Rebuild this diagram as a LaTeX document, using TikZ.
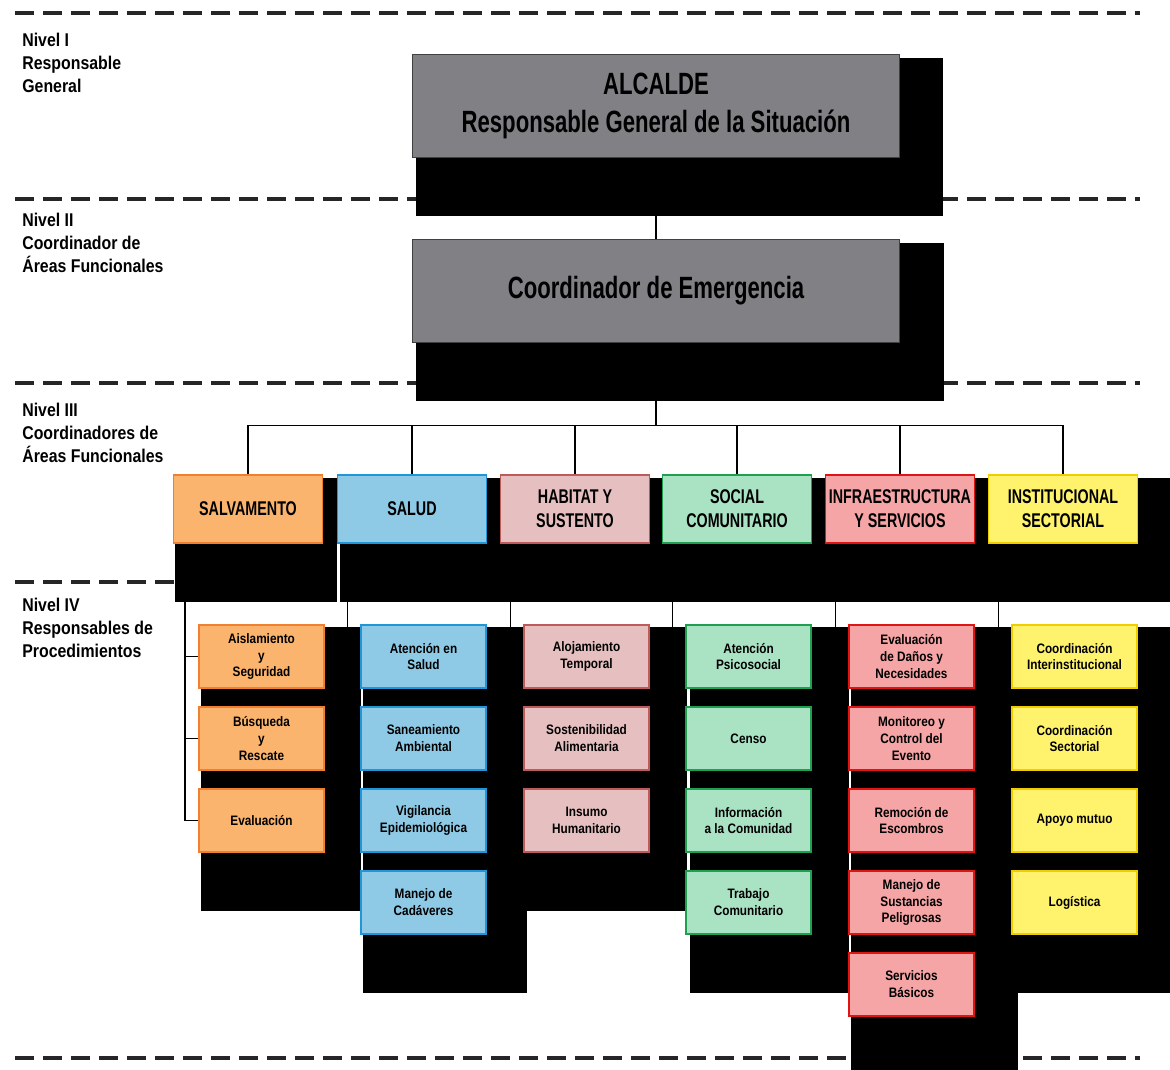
\documentclass[tikz,border=0pt]{standalone}
\usepackage{fontspec}
\setmainfont{Liberation Sans}[FakeStretch=0.72]
\newfontfamily\ancho{Liberation Sans}[FakeStretch=0.86]

\definecolor{gris}{RGB}{128,128,133}
\definecolor{salvF}{RGB}{251,180,110}
\definecolor{salvB}{RGB}{240,128,48}
\definecolor{saludF}{RGB}{142,202,230}
\definecolor{saludB}{RGB}{30,150,215}
\definecolor{habF}{RGB}{230,192,192}
\definecolor{habB}{RGB}{190,90,90}
\definecolor{socF}{RGB}{170,226,196}
\definecolor{socB}{RGB}{30,160,80}
\definecolor{infF}{RGB}{245,165,165}
\definecolor{infB}{RGB}{225,20,20}
\definecolor{insF}{RGB}{255,243,110}
\definecolor{insB}{RGB}{240,205,0}

\pgfdeclarelayer{fondo}
\pgfdeclarelayer{sombra}
\pgfsetlayers{fondo,sombra,main}

\tikzset{
  nivel/.style={anchor=north west, align=left, inner sep=0pt, font=\ancho\fontsize{10.5}{13}\selectfont\bfseries},
  divisor/.style={dash pattern=on 0.39cm off 0.17cm, line width=1.9pt, black!85},
  enlace/.style={line width=0.7pt},
  jefe/.style={draw=black!75, line width=0.8pt, fill=gris, minimum width=9.74cm, minimum height=2.06cm, align=center, font=\fontsize{17.5}{21.5}\selectfont\bfseries},
  area/.style={line width=1pt, minimum width=2.98cm, minimum height=1.36cm, align=center, inner sep=1pt, font=\fontsize{11.3}{13.6}\selectfont\bfseries},
  proc/.style={line width=1pt, minimum width=2.5cm, minimum height=1.26cm, align=center, inner sep=1pt, font=\ancho\fontsize{7.8}{9.6}\selectfont\bfseries},
  salv/.style={draw=salvB, fill=salvF},
  salu/.style={draw=saludB, fill=saludF},
  habi/.style={draw=habB, fill=habF},
  soci/.style={draw=socB, fill=socF},
  infr/.style={draw=infB, fill=infF},
  inst/.style={draw=insB, fill=insF}
}

\begin{document}
\begin{tikzpicture}[x=0.02cm, y=-0.02cm]
  \useasboundingbox (0,0) rectangle (1170,1069);

  %Niveles
  \node[nivel] (n1) at (22,33) {Nivel I\\Responsable\\General};
  \node[nivel] (n2) at (22,213) {Nivel II\\Coordinador de\\Áreas Funcionales};
  \node[nivel] (n3) at (22,403) {Nivel III\\Coordinadores de\\Áreas Funcionales};
  \node[nivel] (n4) at (22,598) {Nivel IV\\Responsables de\\Procedimientos};

  %Nivel I y II
  \node[jefe] (alc) at (656,106) {ALCALDE\\Responsable General de la Situación};
  \node[jefe] (coord) at (656,291) {Coordinador de Emergencia};

  %Nivel III
  \node[area, salv] (salvam) at (248,509) {SALVAMENTO};
  \node[area, salu] (salud) at (412,509) {SALUD};
  \node[area, habi] (habitat) at (575,509) {HABITAT Y\\SUSTENTO};
  \node[area, soci] (social) at (737,509) {SOCIAL\\COMUNITARIO};
  \node[area, infr] (infra) at (900,509) {INFRAESTRUCTURA\\Y SERVICIOS};
  \node[area, inst] (instit) at (1063,509) {INSTITUCIONAL\\SECTORIAL};

  %Nivel IV
  \foreach \t [count=\i] in {{Aislamiento\\y\\Seguridad},{Búsqueda\\y\\Rescate},{Evaluación}}
    \node[proc, salv] (sv\i) at (261.5,574.5+82*\i) {\t};
  \foreach \t [count=\i] in {{Atención en\\Salud},{Saneamiento\\Ambiental},{Vigilancia\\Epidemiológica},{Manejo de\\Cadáveres}}
    \node[proc, salu] (sa\i) at (423.5,574.5+82*\i) {\t};
  \foreach \t [count=\i] in {{Alojamiento\\Temporal},{Sostenibilidad\\Alimentaria},{Insumo\\Humanitario}}
    \node[proc, habi] (ha\i) at (586.5,574.5+82*\i) {\t};
  \foreach \t [count=\i] in {{Atención\\Psicosocial},{Censo},{Información\\a la Comunidad},{Trabajo\\Comunitario}}
    \node[proc, soci] (so\i) at (748.5,574.5+82*\i) {\t};
  \foreach \t [count=\i] in {{Evaluación\\de Daños y\\Necesidades},{Monitoreo y\\Control del\\Evento},{Remoción de\\Escombros},{Manejo de\\Sustancias\\Peligrosas},{Servicios\\Básicos}}
    \node[proc, infr] (in\i) at (911.5,574.5+82*\i) {\t};
  \foreach \t [count=\i] in {{Coordinación\\Interinstitucional},{Coordinación\\Sectorial},{Apoyo mutuo},{Logística}}
    \node[proc, inst] (is\i) at (1074.5,574.5+82*\i) {\t};

  %Sombras
  \begin{pgfonlayer}{sombra}
    \foreach \xa/\ya/\xb/\yb in {416/58/943/216, 416/243/944/401, 175/478/337/602, 340/478/1170/602,
        201/627/361/911, 363/627/527/993, 527/627/687/911, 690/627/849/993, 851/627/1018/1080, 1014/627/1170/993}
      \fill[black] (\xa,\ya) rectangle (\xb,\yb);
  \end{pgfonlayer}

  %Lineas
  \begin{pgfonlayer}{fondo}
    \foreach \y in {13,199,383,1058}
      \draw[divisor] (15,\y) -- (1140,\y);
    \draw[divisor] (15,582) -- (175,582);

    \draw[enlace] (alc.south) -- (coord.north);
    \path (coord.south) ++(0,82) coordinate (reparto);
    \draw[enlace] (coord.south) -- (reparto);
    \foreach \n in {salvam,salud,habitat,social,infra,instit}
      \draw[enlace] (reparto) -| (\n.north);

    \path (salvam.south) ++(-63,20) coordinate (bajada);
    \draw[enlace] (bajada) |- (sv3.west);
    \foreach \i in {1,2}
      \draw[enlace] (sv\i.west) -- (sv\i.west -| bajada);
    \foreach \a/\b in {salud/sa1, habitat/ha1, social/so1, infra/in1, instit/is1}
      \draw[enlace] (\a.south -| \b.west) ++(-13,0) -- ++(0,84);
  \end{pgfonlayer}
\end{tikzpicture}
\end{document}
